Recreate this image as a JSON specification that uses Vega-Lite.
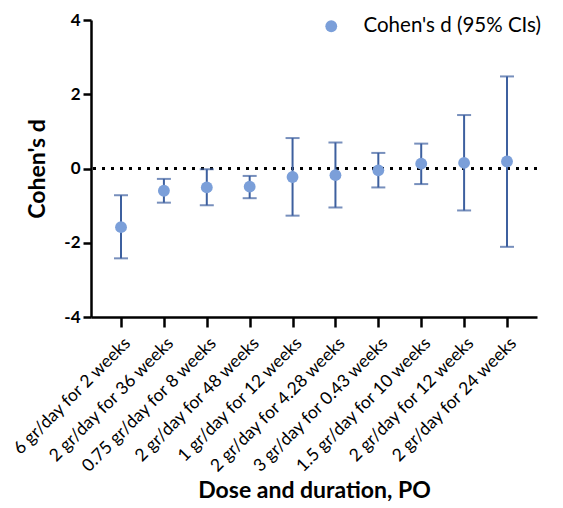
{
  "$schema": "https://vega.github.io/schema/vega-lite/v6.json",
  "width": 446,
  "height": 297,
  "autosize": "none",
  "padding": {"left": 91, "top": 20, "right": 26, "bottom": 191},
  "background": "white",
  "config": {
    "view": {"stroke": null},
    "font": "Lato",
    "axis": {"domainColor": "black", "domainWidth": 2.5, "tickColor": "black", "tickWidth": 2.5, "grid": false, "labelColor": "black", "titleColor": "black"}
  },
  "data": {"values": [
    {"label": "6 gr/day for 2 weeks", "d": -1.58, "lo": -2.42, "hi": -0.72},
    {"label": "2 gr/day for 36 weeks", "d": -0.60, "lo": -0.92, "hi": -0.28},
    {"label": "0.75 gr/day for 8 weeks", "d": -0.51, "lo": -0.99, "hi": -0.02},
    {"label": "2 gr/day for 48 weeks", "d": -0.49, "lo": -0.80, "hi": -0.20},
    {"label": "1 gr/day for 12 weeks", "d": -0.23, "lo": -1.27, "hi": 0.82},
    {"label": "2 gr/day for 4.28 weeks", "d": -0.18, "lo": -1.05, "hi": 0.70},
    {"label": "3 gr/day for 0.43 weeks", "d": -0.05, "lo": -0.51, "hi": 0.42},
    {"label": "1.5 gr/day for 10 weeks", "d": 0.13, "lo": -0.42, "hi": 0.67},
    {"label": "2 gr/day for 12 weeks", "d": 0.15, "lo": -1.13, "hi": 1.44},
    {"label": "2 gr/day for 24 weeks", "d": 0.19, "lo": -2.11, "hi": 2.48}
  ]},
  "layer": [
    {
      "data": {"values": [{"zero": 0}]},
      "mark": {"type": "rule", "color": "black", "strokeWidth": 3, "strokeDash": [3, 6]},
      "encoding": {"y": {"field": "zero", "type": "quantitative", "title": "Cohen's d"}}
    },
    {
      "mark": {"type": "rule", "color": "#3d609f", "strokeWidth": 2},
      "encoding": {
        "x": {"field": "label", "type": "nominal", "sort": null, "scale": {"type": "point", "padding": 0.7},
          "axis": {"title": "Dose and duration, PO", "labelAngle": -45, "labelFontSize": 17.5, "tickSize": 10, "labelPadding": 7, "labelLimit": 300, "titleFontSize": 23, "titleFontWeight": "bold", "titlePadding": 4}},
        "y": {"field": "lo", "type": "quantitative", "title": "Cohen's d",
          "scale": {"domain": [-4, 4], "nice": false},
          "axis": {"values": [-4, -2, 0, 2, 4], "labelExpr": "datum.value < 0 ? '-' + abs(datum.value) : '' + datum.value", "tickSize": 8, "labelFontSize": 17, "labelFontWeight": "bold", "labelPadding": 3, "titleFontSize": 23, "titleFontWeight": "bold", "titlePadding": 14}},
        "y2": {"field": "hi"}
      }
    },
    {
      "mark": {"type": "tick", "color": "#3d609f", "size": 14, "thickness": 2},
      "encoding": {
        "x": {"field": "label", "type": "nominal", "sort": null},
        "y": {"field": "lo", "type": "quantitative", "title": "Cohen's d"}
      }
    },
    {
      "mark": {"type": "tick", "color": "#3d609f", "size": 14, "thickness": 2},
      "encoding": {
        "x": {"field": "label", "type": "nominal", "sort": null},
        "y": {"field": "hi", "type": "quantitative", "title": "Cohen's d"}
      }
    },
    {
      "mark": {"type": "circle", "size": 140, "opacity": 1},
      "encoding": {
        "x": {"field": "label", "type": "nominal", "sort": null},
        "y": {"field": "d", "type": "quantitative", "title": "Cohen's d"},
        "color": {"datum": "Cohen's d (95% CIs)", "type": "nominal",
          "scale": {"range": ["#7b9fd9"]},
          "legend": {"orient": "none", "legendX": 230, "legendY": -4, "title": null, "labelFontSize": 20.5, "labelLimit": 400, "labelColor": "black", "symbolSize": 140, "symbolType": "circle", "labelOffset": 22, "padding": 0}}
      }
    }
  ]
}
